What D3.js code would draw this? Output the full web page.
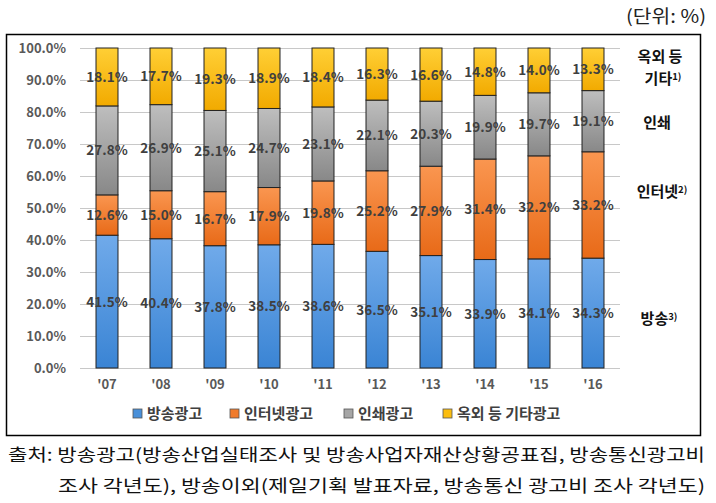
<!DOCTYPE html>
<html><head><meta charset="utf-8">
<script src="https://cdn.jsdelivr.net/npm/d3@7"></script>
<style>body{margin:0;background:#fff}svg{display:block}</style>
</head><body>
<script>
const years = ["'07","'08","'09","'10","'11","'12","'13","'14","'15","'16"];
const broadcast = [41.5,40.4,37.8,38.5,38.6,36.5,35.1,33.9,34.1,34.3];
const internet  = [12.6,15.0,16.7,17.9,19.8,25.2,27.9,31.4,32.2,33.2];
const print     = [27.8,26.9,25.1,24.7,23.1,22.1,20.3,19.9,19.7,19.1];
const outdoor   = [18.1,17.7,19.3,18.9,18.4,16.3,16.6,14.8,14.0,13.3];
const seriesNames = ["방송광고","인터넷광고","인쇄광고","옥외 등 기타광고"];
const yTicks = [0,10,20,30,40,50,60,70,80,90,100];

const W=716,H=503;
const svg=d3.select("body").append("svg").attr("width",W).attr("height",H);
const font="'Noto Sans CJK KR','Noto Sans',sans-serif";

const defs=svg.append("defs");
const grads=[["gB","#70aaea","#3a84d4"],["gI","#fa9650","#e86a18"],["gP","#bebebe","#888888"],["gO","#ffcf35","#f2aa00"]];
grads.forEach(([id,a,b])=>{
  const g=defs.append("linearGradient").attr("id",id).attr("x1",0).attr("y1",0).attr("x2",0).attr("y2",1);
  g.append("stop").attr("offset","0%").attr("stop-color",a);
  g.append("stop").attr("offset","100%").attr("stop-color",b);
});
const colors=["#4a90d9","#f07b2c","#a6a6a6","#fbbd0f"];

// unit
svg.append("text").attr("x",626).attr("y",23).attr("textLength",80).attr("lengthAdjust","spacingAndGlyphs")
  .attr("font-family",font).attr("font-size",18).attr("fill","#222").text("(단위: %)");

// frame
svg.append("rect").attr("x",6.5).attr("y",34.5).attr("width",694).attr("height",401)
  .attr("fill","none").attr("stroke","#000").attr("stroke-width",1.5);

const x=d3.scaleBand().domain(years).range([80,620]).paddingInner(0.593).paddingOuter(0.2965);
const y=d3.scaleLinear().domain([0,1]).range([368,48]);
const yp=d3.scaleLinear().domain([0,100]).range([368,48]);

// gridlines
svg.append("g").selectAll("line").data(yTicks).join("line")
  .attr("x1",80).attr("x2",620).attr("y1",d=>yp(d)+0.5).attr("y2",d=>yp(d)+0.5)
  .attr("stroke","#c8c8c8").attr("stroke-width",1);

// y axis labels
const yAxis=d3.axisLeft(yp).tickValues(yTicks).tickFormat(d=>d.toFixed(1)+"%").tickSize(0).tickPadding(0);
const ga=svg.append("g").attr("transform","translate(66,0)").call(yAxis);
ga.select(".domain").remove();
ga.selectAll("text").attr("font-family",font).attr("font-size",13).attr("font-weight","bold").attr("fill","#595959");

// x axis labels
const xAxis=d3.axisBottom(x).tickSize(0).tickPadding(0);
const gx=svg.append("g").attr("transform","translate(0,380)").call(xAxis);
gx.select(".domain").remove();
gx.selectAll("text").attr("font-family",font).attr("font-size",13).attr("font-weight","bold").attr("fill","#595959");

// stacked data (100% stacked)
const rows=years.map((yr,i)=>({year:yr,b:broadcast[i],n:internet[i],p:print[i],o:outdoor[i]}));
const keys=["b","n","p","o"];
const stack=d3.stack().keys(keys).offset(d3.stackOffsetExpand)(rows);

const g=svg.append("g");
stack.forEach((layer,li)=>{
  g.append("g").selectAll("rect").data(layer).join("rect")
    .attr("x",d=>x(d.data.year)).attr("width",x.bandwidth())
    .attr("y",d=>y(d[1])).attr("height",d=>y(d[0])-y(d[1]))
    .attr("fill",`url(#${grads[li][0]})`).attr("stroke","#222").attr("stroke-width",1);
});
stack.forEach((layer,li)=>{
  g.append("g").selectAll("text").data(layer).join("text")
    .attr("x",d=>x(d.data.year)+x.bandwidth()/2)
    .attr("y",d=>y((d[0]+d[1])/2)+5)
    .attr("text-anchor","middle").attr("font-family",font).attr("font-size",13.5)
    .attr("font-weight","bold").attr("fill","#3f3f3f")
    .text(d=>d.data[keys[li]].toFixed(1)+"%");
});

// right side labels
const rl=svg.append("g").attr("font-family",font).attr("font-weight","bold").attr("font-size",15).attr("fill","#111").attr("text-anchor","middle");
function rlab(xc,yc,main,sup){
  const t=rl.append("text").attr("x",xc).attr("y",yc);
  t.append("tspan").text(main);
  if(sup) t.append("tspan").attr("font-size",9.5).attr("dy",-4).text(sup);
}
rlab(660,62,"옥외 등");
rlab(663,84,"기타","1)");
rlab(657,128,"인쇄");
rlab(662,197,"인터넷","2)");
rlab(659,324,"방송","3)");

// legend
const legX=[133,230,344,443];
const lg=svg.append("g");
seriesNames.forEach((n,i)=>{
  lg.append("rect").attr("x",legX[i]).attr("y",409).attr("width",9).attr("height",9)
    .attr("fill",colors[i]).attr("stroke","#555").attr("stroke-width",0.8);
  lg.append("text").attr("x",legX[i]+14).attr("y",419).attr("font-family",font)
    .attr("font-size",15).attr("font-weight","bold").attr("fill","#404040").text(n);
});

// source
const src=svg.append("g").attr("font-family",font).attr("font-size",17).attr("fill","#111");
src.append("text").attr("x",8).attr("y",461).attr("textLength",697).attr("lengthAdjust","spacingAndGlyphs")
  .text("출처: 방송광고(방송산업실태조사 및 방송사업자재산상황공표집, 방송통신광고비");
src.append("text").attr("x",58).attr("y",492).attr("textLength",647).attr("lengthAdjust","spacingAndGlyphs")
  .text("조사 각년도), 방송이외(제일기획 발표자료, 방송통신 광고비 조사 각년도)");
</script>
</body></html>
